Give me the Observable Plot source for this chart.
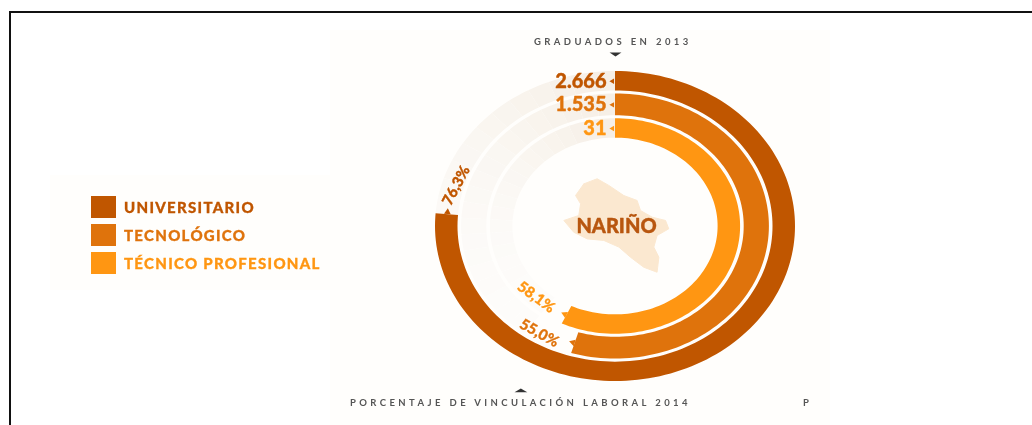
<!DOCTYPE html>
<html><head><meta charset="utf-8">
<script src="https://cdn.jsdelivr.net/npm/d3@7"></script>
<script src="https://cdn.jsdelivr.net/npm/@observablehq/plot@0.6"></script>
<style>
html,body{margin:0;padding:0;background:#fff;overflow:hidden}
#page{position:relative;width:1032px;height:425px;font-family:Lato,sans-serif;overflow:hidden}
#frame{position:absolute;left:9px;top:11px;width:1030px;height:420px;border:solid #111;border-width:2px 0 0 2px;box-sizing:border-box}
#tint{position:absolute;left:330px;top:30px;width:500px;height:395px;background:#fffefc}
#tint2{position:absolute;left:50px;top:175px;width:280px;height:115px;background:#fffefc}
#chart{position:absolute;left:0;top:0;filter:blur(.45px)}
.cap{position:absolute;color:#555;font-size:9.5px;font-weight:700;letter-spacing:3.4px;white-space:nowrap;filter:blur(.35px)}
#legend{position:absolute;left:91px;top:196px;filter:blur(.4px)}
.row{display:flex;align-items:center;height:22px;margin-bottom:6px;font-weight:900;font-size:15px;letter-spacing:1.3px;-webkit-text-stroke:.3px currentColor}
.sw{width:25px;height:22px;margin-right:8px}
</style></head><body>
<div id="page">
<div id="tint"></div><div id="tint2"></div>
<div id="frame"></div>
<div id="chart"></div>
<div class="cap" style="left:534px;top:36px">GRADUADOS EN 2013</div>
<div class="cap" style="left:350px;top:397px">PORCENTAJE DE VINCULACIÓN LABORAL 2014</div>
<div class="cap" style="left:803px;top:397px">P</div>
<div id="legend"></div>
</div>
<script>
const levels = ["UNIVERSITARIO", "TECNOLÓGICO", "TÉCNICO PROFESIONAL"];
const colors = ["#c05600", "#df730c", "#ff9612"];
const graduates = ["2.666", "1.535", "31"];
const employment = [76.3, 54.6, 57.0];
const employmentLabels = ["76,3%", "55,0%", "58,1%"];
const outerRadius = [100, 85.5, 69.5];
const innerRadius = [87.5, 71.5, 57];
const region = "NARIÑO";
const regionOutline = [[-17.6,27.5],[-10.2,30.8],[-3.7,26.5],[4.6,20],[12,16.8],[13.9,10.3],[20.4,6],[27.8,3.9],[29.6,-1.5],[23.1,-5.8],[21.3,-13.3],[24.1,-19.8],[23.1,-29.5],[15.7,-26.3],[8.3,-19.8],[1.9,-13.3],[-6.5,-9],[-15.7,-8],[-23.2,-3.7],[-28.7,3.9],[-20.4,7.1],[-19.4,14.6],[-22.2,20]];
const topPointer = [[-3.3,112.3],[3.3,112.3],[0,109.7]];
const bottomPointer = [[-56.1,-107],[-49,-107],[-52.6,-104.5]];

const pct = d3.range(0, 100.01, 0.5);
const pol = (r, p) => { const a = p / 100 * 2 * Math.PI; return [r * Math.sin(a), r * Math.cos(a)]; };
const band = (i, from, to) => [from, ...pct.filter(p => p > from && p < to), to].map(p => {
  const [x1, y1] = pol(outerRadius[i], p), [x2, y2] = pol(innerRadius[i], p);
  return {x1, y1, x2, y2};
});
const mid = i => (outerRadius[i] + innerRadius[i]) / 2;
// the unfilled remainder of each ring fades out going away from the start
const trackColor = d3.interpolateRgb("#fdfcfa", "#f6efe6");
const steps = d3.range(60, 100, 2);
const tracks = levels.flatMap((_, i) => steps.filter(s => s + 2 > employment[i]).map(s =>
  Plot.area(band(i, Math.max(s, employment[i]), s + 2), {x1:"x1", y1:"y1", x2:"x2", y2:"y2", fill:trackColor(((s + 2 - 60) / 40) ** 2)})
));
const arcs = levels.map((_, i) => Plot.area(band(i, 0, employment[i]), {x1:"x1", y1:"y1", x2:"x2", y2:"y2", fill:colors[i]}));
const startRows = levels.map((l, i) => ({i, x:0, y:mid(i), t:graduates[i]}));
const endRows = levels.map((l, i) => {
  const [x, y] = pol(mid(i), employment[i]);
  return {i, x, y, t:employmentLabels[i], deg:employment[i] / 100 * 360};
});
const labelOffsets = [
  {dx:9, dy:-29, rotate:-62},
  {dx:-36, dy:-10, rotate:29},
  {dx:-31, dy:-18, rotate:36}
];
const polygon = pts => Plot.line(pts.concat([pts[0]]), {x:d=>d[0], y:d=>d[1], fill:"#333", stroke:null});
const pctLabels = levels.map((_, i) => Plot.text([endRows[i]], {x:"x", y:"y", text:"t", ...labelOffsets[i], fontSize:15, fontWeight:900, fill:colors[i], stroke:colors[i], strokeWidth:.3}));
const notches = levels.map((_, i) => {
  const d = endRows[i], t = (d.deg + 90) * Math.PI / 180;
  return Plot.dot([d], {x:"x", y:"y", dx:2.5 * Math.sin(t), dy:-2.5 * Math.cos(t), symbol:"triangle", r:2.5, fill:colors[i], rotate:d.deg + 90});
});
const plot = Plot.plot({
  width:1032, height:425, margin:0,
  x:{domain:[-615/1.8, (1032-615)/1.8], range:[0,1032], axis:null},
  y:{domain:[-(425-226)/1.55, 226/1.55], range:[425,0], axis:null},
  style:{background:"transparent", fontFamily:"Lato,sans-serif"},
  marks:[
    ...tracks,
    ...arcs,
    Plot.line(regionOutline.concat([regionOutline[0]]), {x:d=>d[0], y:d=>d[1], fill:"#fbe8d0", stroke:"#fbe8d0", strokeWidth:1, curve:"linear"}),
    Plot.text([region], {x:[0], y:[0], text:d=>d, dx:1, fontSize:20, fontWeight:900, fill:"#b8560f", stroke:"#b8560f", strokeWidth:.4}),
    Plot.text(startRows, {x:"x", y:"y", text:"t", dx:-9, textAnchor:"end", fontSize:20, fontWeight:900, fill:d=>colors[d.i], stroke:d=>colors[d.i], strokeWidth:.4}),
    Plot.dot(startRows, {x:"x", y:"y", dx:-3, symbol:"triangle", r:2, fill:d=>colors[d.i], rotate:-90}),
    ...notches,
    ...pctLabels,
    polygon(topPointer),
    polygon(bottomPointer)
  ]
});
document.getElementById("chart").append(plot);
document.getElementById("legend").innerHTML = levels.map((l,i)=>`<div class="row" style="color:${colors[i]}"><span class="sw" style="background:${colors[i]}"></span>${l}</div>`).join("");
</script>
</body></html>
